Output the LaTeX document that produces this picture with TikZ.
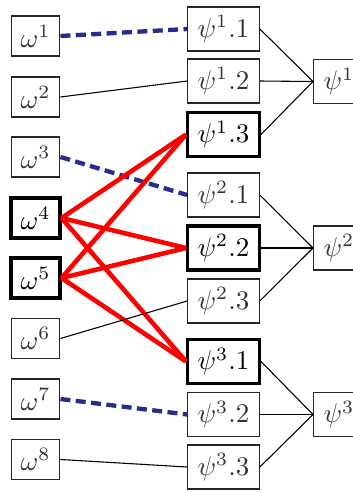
\documentclass[tikz,border=0pt]{standalone}
\begin{document}
\begin{tikzpicture}[x=0.37pt,y=-0.37pt,
  wbox/.style={draw=black!85,line width=0.4pt,minimum width=17.4pt,minimum height=14.8pt,inner xsep=3.5pt,inner ysep=1pt,text=black!80},
  pbox/.style={draw=black!85,line width=0.4pt,minimum width=25.5pt,minimum height=16.3pt,inner xsep=3.7pt,inner ysep=1pt,text=black!80},
  qbox/.style={draw=black!85,line width=0.4pt,minimum height=16.3pt,inner xsep=3.7pt,inner ysep=1pt,text=black!80,anchor=west},
  hl/.style={line width=1.2pt,draw=black,text=black},
  thin/.style={line width=0.4pt,draw=black},
  red/.style={line width=1.7pt,draw={rgb,255:red,255;green,0;blue,0}},
  bluedash/.style={line width=1.6pt,draw={rgb,255:red,40;green,45;blue,140},dash pattern=on 3.7pt off 2pt}]
\path[use as bounding box,clip] (0,0) rectangle (353,492);
% left column
\node[wbox] (w1) at (35.5,36) {$\omega^1$};
\node[wbox] (w2) at (35.5,97) {$\omega^2$};
\node[wbox] (w3) at (35.5,157) {$\omega^3$};
\node[wbox,hl] (w4) at (35.5,218) {$\omega^4$};
\node[wbox,hl] (w5) at (35.5,278) {$\omega^5$};
\node[wbox] (w6) at (35.5,338.5) {$\omega^6$};
\node[wbox] (w7) at (35.5,399) {$\omega^7$};
\node[wbox] (w8) at (35.5,459.5) {$\omega^8$};
% middle column
\node[pbox] (p11) at (223.5,29) {$\psi^1.1$};
\node[pbox] (p12) at (223.5,81) {$\psi^1.2$};
\node[pbox,hl] (p13) at (223.5,134.5) {$\psi^1.3$};
\node[pbox] (p21) at (223.5,195) {$\psi^2.1$};
\node[pbox,hl] (p22) at (223.5,248) {$\psi^2.2$};
\node[pbox] (p23) at (223.5,301) {$\psi^2.3$};
\node[pbox,hl] (p31) at (223.5,361.5) {$\psi^3.1$};
\node[pbox] (p32) at (223.5,414.5) {$\psi^3.2$};
\node[pbox] (p33) at (223.5,467) {$\psi^3.3$};
% right column
\node[qbox] (q1) at (313,81.5) {$\psi^1$};
\node[qbox] (q2) at (313,248) {$\psi^2$};
\node[qbox] (q3) at (313,414.5) {$\psi^3$};
% connectors left-middle
\draw[bluedash] (w1.east) -- (p11.west);
\draw[thin] (w2.east) -- (p12.west);
\draw[bluedash] (w3.east) -- (p21.west);
\draw[red] (w4.east) -- (p13.west);
\draw[red] (w4.east) -- (p22.west);
\draw[red] (w4.east) -- (p31.west);
\draw[red] (w5.east) -- (p13.west);
\draw[red] (w5.east) -- (p22.west);
\draw[red] (w5.east) -- (p31.west);
\draw[thin] (w6.east) -- (p23.west);
\draw[bluedash] (w7.east) -- (p32.west);
\draw[thin] (w8.east) -- (p33.west);
% connectors middle-right
\draw[thin] (p11.east) -- (q1.west);
\draw[thin] (p12.east) -- (q1.west);
\draw[thin] (p13.east) -- (q1.west);
\draw[thin] (p21.east) -- (q2.west);
\draw[thin] (p22.east) -- (q2.west);
\draw[thin] (p23.east) -- (q2.west);
\draw[thin] (p31.east) -- (q3.west);
\draw[thin] (p32.east) -- (q3.west);
\draw[thin] (p33.east) -- (q3.west);
\end{tikzpicture}
\end{document}
